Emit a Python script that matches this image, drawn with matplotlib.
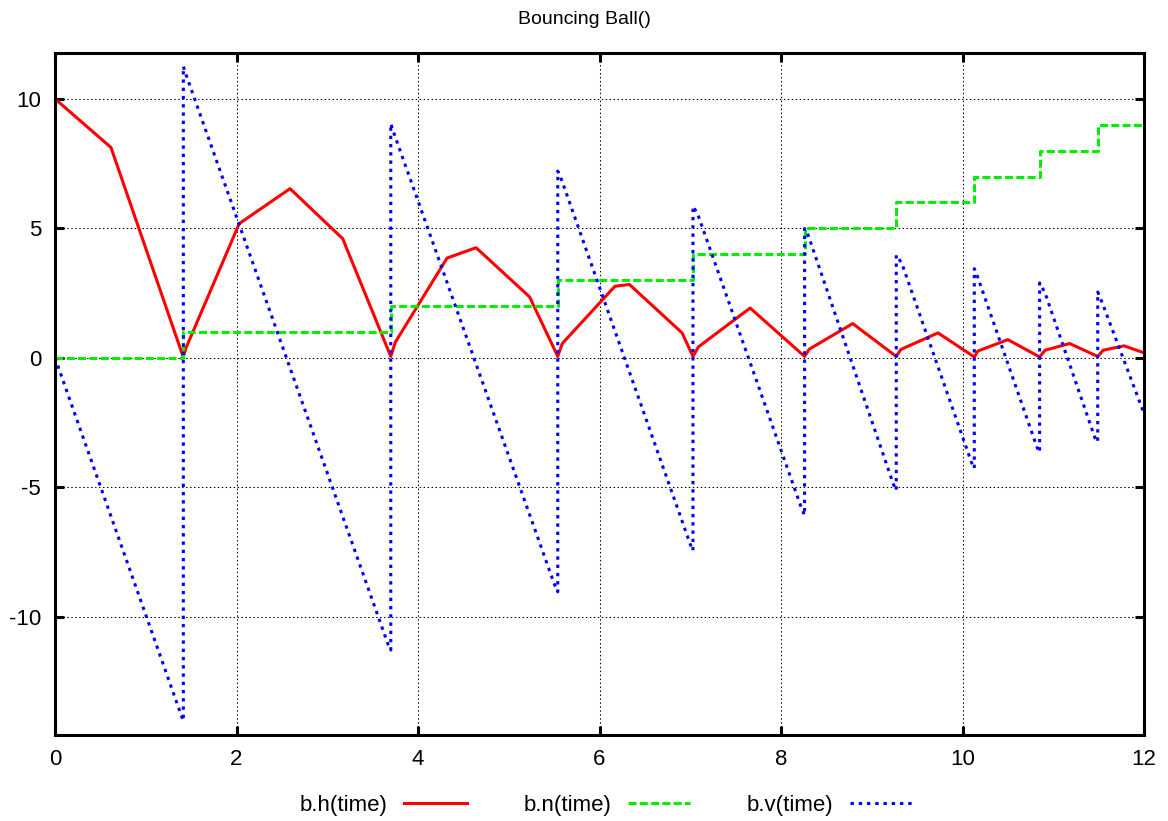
import numpy as np
import matplotlib
matplotlib.use('Agg')
import matplotlib.pyplot as plt

h_time = [0, 0.617, 1.414, 1.44, 2.03, 2.59, 3.17, 3.70, 3.75, 4.32, 4.64, 5.23,
          5.54, 5.59, 6.17, 6.33, 6.91, 7.03, 7.09, 7.66, 8.26, 8.31, 8.79,
          9.27, 9.32, 9.73, 10.13, 10.17, 10.50, 10.85, 10.91, 11.18, 11.49,
          11.55, 11.78, 12.0]
h_val = [10, 8.12, 0.02, 0.35, 5.18, 6.53, 4.60, 0.05, 0.6, 3.85, 4.25, 2.35,
         0.05, 0.55, 2.76, 2.83, 0.96, 0.05, 0.42, 1.92, 0.05, 0.33, 1.32,
         0.05, 0.32, 0.96, 0.03, 0.26, 0.70, 0.03, 0.29, 0.55, 0.05,
         0.29, 0.46, 0.19]

n_time = [0, 1.414, 3.70, 5.54, 7.03, 8.26, 9.27, 10.13, 10.85, 11.49, 12.0]
n_val = [0, 1, 2, 3, 4, 5, 6, 7, 8, 9, 9]

v_time = [0, 1.39, 1.414, 1.414, 1.44, 3.67, 3.70, 3.70, 3.73, 5.50, 5.54, 5.54,
          5.58, 7.00, 7.03, 7.03, 7.08, 8.23, 8.26, 8.26, 8.30, 9.24, 9.27, 9.27,
          9.33, 10.10, 10.13, 10.13, 10.16, 10.82, 10.85, 10.85, 10.91, 11.46,
          11.49, 11.49, 11.54, 12.0]
v_val = [0, -13.8, -14.02, 11.25, 10.97, -11.07, -11.29, 9.04, 8.72, -8.72, -9.04, 7.21,
         6.89, -7.2, -7.45, 5.85, 5.57, -5.85, -6.08, 4.99, 4.73, -4.9, -5.12, 3.96,
         3.66, -4.05, -4.27, 3.44, 3.19, -3.45, -3.65, 2.89, 2.50, -3.1,
         -3.25, 2.54, 2.12, -2.15]

x_ticks = [0, 2, 4, 6, 8, 10, 12]
y_ticks = [-10, -5, 0, 5, 10]

plt.rcParams['font.family'] = ['Liberation Sans', 'DejaVu Sans']
plt.rcParams['axes.unicode_minus'] = False
fontsize = 16

fig = plt.figure(figsize=(11.68, 8.21), dpi=100)
ax = fig.add_axes([55 / 1168, 1 - 735 / 821, (1144 - 55) / 1168, (735 - 53) / 821])

lw = 2.2
ax.plot(h_time, h_val, color='#ff0000', lw=lw, label='b.h(time)')
ax.plot(n_time, n_val, color='#00ee00', lw=lw, drawstyle='steps-post',
        dashes=(2.6, 1.1), label='b.n(time)')
ax.plot(v_time, v_val, color='#0000ff', lw=lw, dashes=(1.1, 1.6),
        label='b.v(time)')

ax.set_xlim(0, 12)
ax.set_ylim(-14.57, 11.77)
ax.set_xticks(x_ticks)
ax.set_yticks(y_ticks)
ax.grid(True, color='black', lw=0.75, linestyle=(0, (1.4, 2.4)))
ax.set_axisbelow(True)

for sp in ax.spines.values():
    sp.set_linewidth(2.2)
ax.tick_params(direction='in', length=6.5, width=2.2, top=True, right=True,
               labelsize=fontsize, pad=10)

fig.suptitle('Bouncing Ball()', y=1 - 20 / 821, va='center', fontsize=14)

# legend below the axes, text before the sample like gnuplot
handles, labels = ax.get_legend_handles_labels()
fig.legend(handles, labels, loc='center', bbox_to_anchor=(606 / 1168, 1 - 805 / 821),
           ncol=3, frameon=False, markerfirst=False, fontsize=fontsize,
           handlelength=2.8, handletextpad=0.75, columnspacing=2.55)

fig.savefig('out.png', dpi=100)
